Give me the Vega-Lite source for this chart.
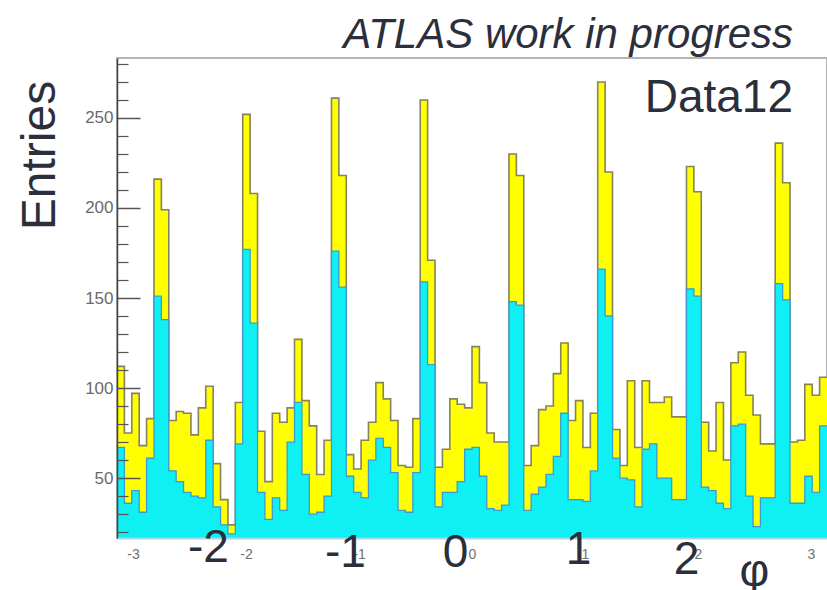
{
"$schema": "https://vega.github.io/schema/vega-lite/v6.json",
"width": 710,
"height": 480,
"autosize": {"type": "none"},
"padding": {"left": 117, "top": 58, "right": 0, "bottom": 52},
"background": "white",
"config": {"view": {"stroke": "#b4b4b4", "strokeWidth": 2}, "font": "Liberation Sans"},
"title": {"text": "ATLAS work in progress", "subtitle": "Data12", "anchor": "end", "frame": "group", "dx": -34, "offset": -64, "font": "Liberation Sans", "fontSize": 42, "fontStyle": "italic", "fontWeight": "normal", "color": "#2b2e3b", "subtitleFont": "Liberation Sans", "subtitleFontSize": 46, "subtitleColor": "#2b2e3b", "subtitlePadding": 19},
"data": {"values": [
{"lo": -3.1416, "hi": -3.0761, "tot": 112, "cy": 67},
{"lo": -3.0761, "hi": -3.0107, "tot": 75, "cy": 36},
{"lo": -3.0107, "hi": -2.9452, "tot": 97, "cy": 43},
{"lo": -2.9452, "hi": -2.8798, "tot": 68, "cy": 31},
{"lo": -2.8798, "hi": -2.8143, "tot": 83, "cy": 61},
{"lo": -2.8143, "hi": -2.7489, "tot": 216, "cy": 151},
{"lo": -2.7489, "hi": -2.6834, "tot": 199, "cy": 138},
{"lo": -2.6834, "hi": -2.6180, "tot": 82, "cy": 54},
{"lo": -2.6180, "hi": -2.5525, "tot": 87, "cy": 48},
{"lo": -2.5525, "hi": -2.4871, "tot": 86, "cy": 42},
{"lo": -2.4871, "hi": -2.4216, "tot": 74, "cy": 40},
{"lo": -2.4216, "hi": -2.3562, "tot": 89, "cy": 39},
{"lo": -2.3562, "hi": -2.2907, "tot": 101, "cy": 71},
{"lo": -2.2907, "hi": -2.2253, "tot": 58, "cy": 34},
{"lo": -2.2253, "hi": -2.1598, "tot": 38, "cy": 24},
{"lo": -2.1598, "hi": -2.0944, "tot": 24, "cy": 19},
{"lo": -2.0944, "hi": -2.0289, "tot": 92, "cy": 69},
{"lo": -2.0289, "hi": -1.9635, "tot": 252, "cy": 177},
{"lo": -1.9635, "hi": -1.8980, "tot": 208, "cy": 136},
{"lo": -1.8980, "hi": -1.8326, "tot": 76, "cy": 42},
{"lo": -1.8326, "hi": -1.7671, "tot": 48, "cy": 27},
{"lo": -1.7671, "hi": -1.7017, "tot": 86, "cy": 39},
{"lo": -1.7017, "hi": -1.6362, "tot": 81, "cy": 32},
{"lo": -1.6362, "hi": -1.5708, "tot": 89, "cy": 70},
{"lo": -1.5708, "hi": -1.5053, "tot": 127, "cy": 92},
{"lo": -1.5053, "hi": -1.4399, "tot": 93, "cy": 52},
{"lo": -1.4399, "hi": -1.3744, "tot": 79, "cy": 30},
{"lo": -1.3744, "hi": -1.3090, "tot": 52, "cy": 31},
{"lo": -1.3090, "hi": -1.2435, "tot": 71, "cy": 40},
{"lo": -1.2435, "hi": -1.1781, "tot": 261, "cy": 176},
{"lo": -1.1781, "hi": -1.1126, "tot": 218, "cy": 156},
{"lo": -1.1126, "hi": -1.0472, "tot": 63, "cy": 51},
{"lo": -1.0472, "hi": -0.9817, "tot": 55, "cy": 42},
{"lo": -0.9817, "hi": -0.9163, "tot": 71, "cy": 39},
{"lo": -0.9163, "hi": -0.8508, "tot": 81, "cy": 60},
{"lo": -0.8508, "hi": -0.7854, "tot": 103, "cy": 72},
{"lo": -0.7854, "hi": -0.7199, "tot": 94, "cy": 67},
{"lo": -0.7199, "hi": -0.6545, "tot": 82, "cy": 53},
{"lo": -0.6545, "hi": -0.5890, "tot": 57, "cy": 32},
{"lo": -0.5890, "hi": -0.5236, "tot": 56, "cy": 31},
{"lo": -0.5236, "hi": -0.4581, "tot": 83, "cy": 53},
{"lo": -0.4581, "hi": -0.3927, "tot": 260, "cy": 159},
{"lo": -0.3927, "hi": -0.3272, "tot": 171, "cy": 113},
{"lo": -0.3272, "hi": -0.2618, "tot": 56, "cy": 34},
{"lo": -0.2618, "hi": -0.1963, "tot": 66, "cy": 42},
{"lo": -0.1963, "hi": -0.1309, "tot": 94, "cy": 42},
{"lo": -0.1309, "hi": -0.0654, "tot": 91, "cy": 48},
{"lo": -0.0654, "hi": 0, "tot": 89, "cy": 66},
{"lo": 0, "hi": 0.0654, "tot": 123, "cy": 67},
{"lo": 0.0654, "hi": 0.1309, "tot": 103, "cy": 51},
{"lo": 0.1309, "hi": 0.1963, "tot": 75, "cy": 33},
{"lo": 0.1963, "hi": 0.2618, "tot": 70, "cy": 32},
{"lo": 0.2618, "hi": 0.3272, "tot": 70, "cy": 35},
{"lo": 0.3272, "hi": 0.3927, "tot": 230, "cy": 148},
{"lo": 0.3927, "hi": 0.4581, "tot": 218, "cy": 146},
{"lo": 0.4581, "hi": 0.5236, "tot": 57, "cy": 32},
{"lo": 0.5236, "hi": 0.5890, "tot": 68, "cy": 41},
{"lo": 0.5890, "hi": 0.6545, "tot": 88, "cy": 45},
{"lo": 0.6545, "hi": 0.7199, "tot": 90, "cy": 52},
{"lo": 0.7199, "hi": 0.7854, "tot": 108, "cy": 62},
{"lo": 0.7854, "hi": 0.8508, "tot": 125, "cy": 86},
{"lo": 0.8508, "hi": 0.9163, "tot": 82, "cy": 38},
{"lo": 0.9163, "hi": 0.9817, "tot": 93, "cy": 38},
{"lo": 0.9817, "hi": 1.0472, "tot": 67, "cy": 37},
{"lo": 1.0472, "hi": 1.1126, "tot": 86, "cy": 54},
{"lo": 1.1126, "hi": 1.1781, "tot": 270, "cy": 166},
{"lo": 1.1781, "hi": 1.2435, "tot": 220, "cy": 140},
{"lo": 1.2435, "hi": 1.3090, "tot": 77, "cy": 61},
{"lo": 1.3090, "hi": 1.3744, "tot": 57, "cy": 50},
{"lo": 1.3744, "hi": 1.4399, "tot": 104, "cy": 49},
{"lo": 1.4399, "hi": 1.5053, "tot": 67, "cy": 34},
{"lo": 1.5053, "hi": 1.5708, "tot": 104, "cy": 66},
{"lo": 1.5708, "hi": 1.6362, "tot": 92, "cy": 69},
{"lo": 1.6362, "hi": 1.7017, "tot": 92, "cy": 50},
{"lo": 1.7017, "hi": 1.7671, "tot": 95, "cy": 50},
{"lo": 1.7671, "hi": 1.8326, "tot": 84, "cy": 38},
{"lo": 1.8326, "hi": 1.8980, "tot": 84, "cy": 38},
{"lo": 1.8980, "hi": 1.9635, "tot": 223, "cy": 155},
{"lo": 1.9635, "hi": 2.0289, "tot": 209, "cy": 151},
{"lo": 2.0289, "hi": 2.0944, "tot": 81, "cy": 45},
{"lo": 2.0944, "hi": 2.1598, "tot": 65, "cy": 43},
{"lo": 2.1598, "hi": 2.2253, "tot": 92, "cy": 36},
{"lo": 2.2253, "hi": 2.2907, "tot": 60, "cy": 33},
{"lo": 2.2907, "hi": 2.3562, "tot": 114, "cy": 79},
{"lo": 2.3562, "hi": 2.4216, "tot": 120, "cy": 80},
{"lo": 2.4216, "hi": 2.4871, "tot": 96, "cy": 40},
{"lo": 2.4871, "hi": 2.5525, "tot": 85, "cy": 23},
{"lo": 2.5525, "hi": 2.6180, "tot": 69, "cy": 39},
{"lo": 2.6180, "hi": 2.6834, "tot": 69, "cy": 39},
{"lo": 2.6834, "hi": 2.7489, "tot": 236, "cy": 158},
{"lo": 2.7489, "hi": 2.8143, "tot": 214, "cy": 149},
{"lo": 2.8143, "hi": 2.8798, "tot": 70, "cy": 36},
{"lo": 2.8798, "hi": 2.9452, "tot": 71, "cy": 36},
{"lo": 2.9452, "hi": 3.0107, "tot": 102, "cy": 51},
{"lo": 3.0107, "hi": 3.0761, "tot": 96, "cy": 42},
{"lo": 3.0761, "hi": 3.1416, "tot": 106, "cy": 79}
]},
"transform": [{"fold": ["lo", "hi"], "as": ["edge", "phi"]}],
"resolve": {"axis": {"x": "independent", "y": "independent"}},
"layer": [
{
"mark": {"type": "area", "color": "#ffff00", "clip": true},
"encoding": {
"x": {"field": "phi", "type": "quantitative", "scale": {"domain": [-3.1416, 3.1416], "nice": false, "zero": false},
"axis": {"orient": "bottom", "values": [-3, -2, -1, 0, 1, 2, 3], "labelExpr": "'' + datum.value", "ticks": false, "domain": true, "domainColor": "#a9d6e6", "domainWidth": 2, "labelFontSize": 14, "labelColor": "#707070", "labelPadding": 9, "title": null, "grid": false, "zindex": 1}},
"y": {"field": "tot", "type": "quantitative", "stack": null, "scale": {"domain": [16.7, 283.3], "nice": false, "zero": false},
"axis": {"orient": "left", "values": [50, 100, 150, 200, 250], "tickSize": -23, "tickColor": "#555555", "tickWidth": 1.5, "labelPadding": 27, "labelFontSize": 17, "labelColor": "#6a6a6a", "domainColor": "#444444", "domainWidth": 1.5, "grid": false, "title": "Entries", "titleFontSize": 48, "titleFontWeight": "normal", "titleColor": "#2b2e3b", "titleX": -77, "titleY": 97, "titleAngle": -90, "titleAlign": "center", "titleBaseline": "middle", "zindex": 1}},
"order": [{"field": "phi", "type": "quantitative"}, {"field": "edge", "type": "nominal"}]
}
},
{
"mark": {"type": "line", "color": "#86825a", "strokeWidth": 1.6, "clip": true},
"encoding": {
"x": {"field": "phi", "type": "quantitative", "axis": null},
"y": {"field": "tot", "type": "quantitative", "axis": null},
"order": [{"field": "phi", "type": "quantitative"}, {"field": "edge", "type": "nominal"}]
}
},
{
"mark": {"type": "area", "color": "#0ff0f5", "clip": true},
"encoding": {
"x": {"field": "phi", "type": "quantitative",
"axis": {"orient": "top", "offset": -517, "values": [-2, -1, 0, 1, 2], "labelExpr": "'' + datum.value", "ticks": false, "domain": false, "labelFontSize": 46, "labelColor": "#2b2e3b", "labelBaseline": "alphabetic", "grid": false, "zindex": 1,
"labelOffset": {"condition": [{"test": "datum.value == -2", "value": -38}, {"test": "datum.value == -1", "value": -14}, {"test": "datum.value == 0", "value": -17}, {"test": "datum.value == 1", "value": -7}], "value": -12},
"labelPadding": {"condition": [{"test": "datum.value == -2", "value": 14}, {"test": "datum.value == -1", "value": 9}, {"test": "datum.value == 0", "value": 9}, {"test": "datum.value == 1", "value": 12}], "value": 2},
"title": "φ", "titleFontSize": 46, "titleFontWeight": "normal", "titleColor": "#2b2e3b", "titleX": 637, "titleY": 10, "titleAlign": "center", "titleBaseline": "alphabetic"}},
"y": {"field": "cy", "type": "quantitative", "stack": null,
"axis": {"orient": "right", "offset": -710, "values": [20, 30, 40, 60, 70, 80, 90, 110, 120, 130, 140, 160, 170, 180, 190, 210, 220, 230, 240, 260, 270, 280], "tickSize": 11, "tickColor": "#555555", "tickWidth": 1.2, "labels": false, "domain": false, "title": null, "grid": false, "zindex": 1}},
"order": [{"field": "phi", "type": "quantitative"}, {"field": "edge", "type": "nominal"}]
}
},
{
"mark": {"type": "line", "color": "#3c9ad2", "strokeWidth": 1.3, "clip": true},
"encoding": {
"x": {"field": "phi", "type": "quantitative", "axis": null},
"y": {"field": "cy", "type": "quantitative", "axis": null},
"order": [{"field": "phi", "type": "quantitative"}, {"field": "edge", "type": "nominal"}]
}
}
]
}
